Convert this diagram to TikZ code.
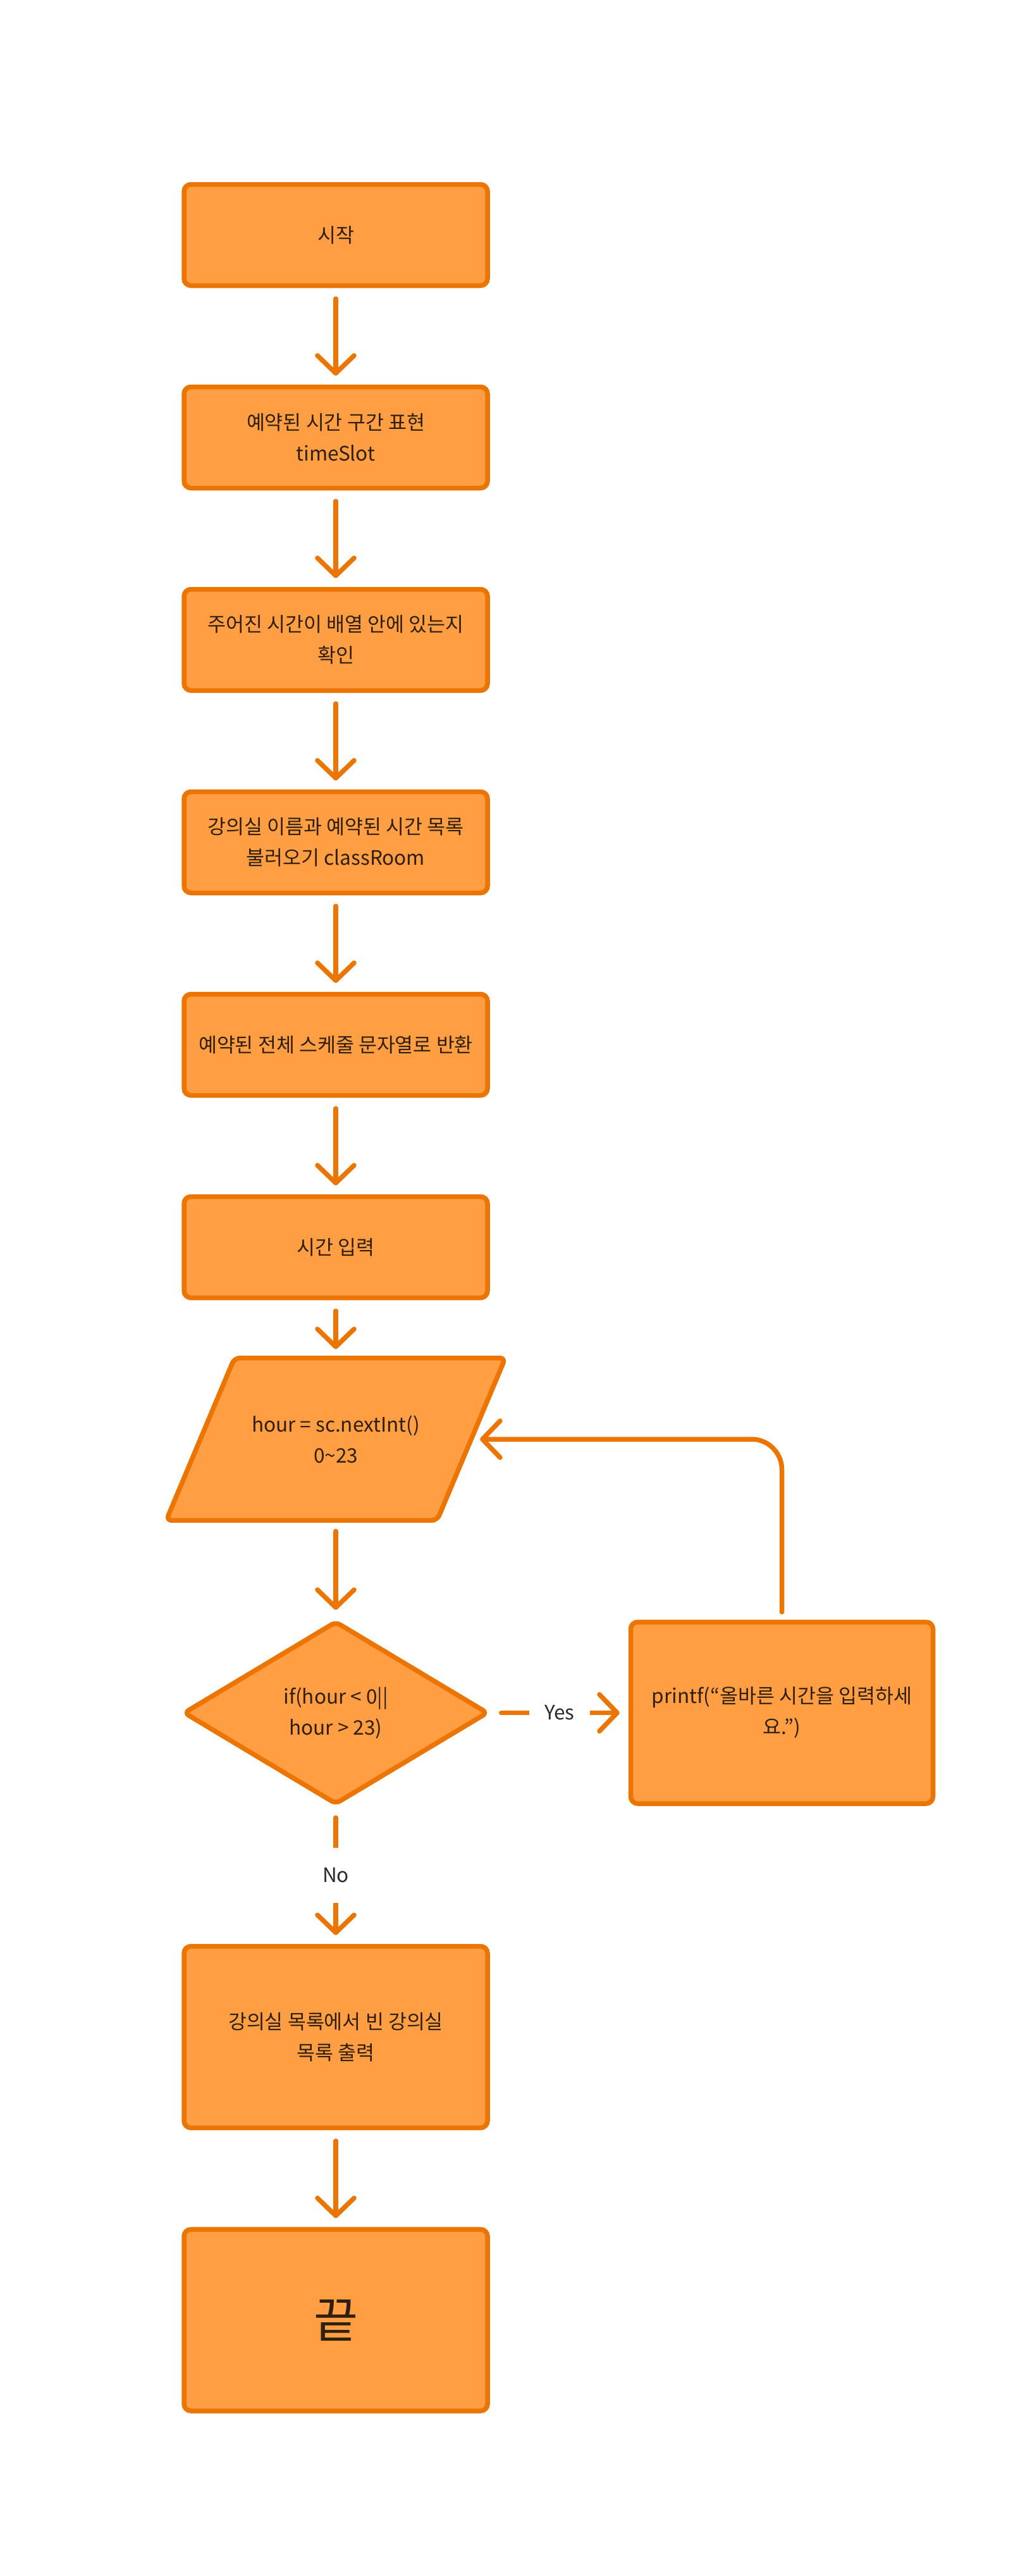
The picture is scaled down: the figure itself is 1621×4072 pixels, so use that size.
\documentclass[tikz,border=0pt]{standalone}
\usepackage{fontspec}
\setmainfont{Noto Sans CJK KR}
\usetikzlibrary{shapes.geometric, arrows.meta, backgrounds}

\definecolor{boxfill}{HTML}{FF9E42}
\definecolor{boxline}{HTML}{EB7500}
\definecolor{ink}{HTML}{2E1F0E}
\definecolor{labelink}{HTML}{2B2B2B}

\begin{document}
\begin{tikzpicture}[x=1pt, y=-1pt,
  every node/.style={font=\fontsize{31.5}{49}\selectfont, text=ink, align=center},
  base/.style={draw=boxline, fill=boxfill, line width=7.5pt},
  stepbox/.style={base, rectangle, rounded corners=11pt,
    minimum width=480pt, minimum height=160pt, inner sep=0pt},
  tallbox/.style={stepbox, minimum height=287pt},
  iobody/.style={rectangle, minimum width=428pt, minimum height=256.5pt, inner sep=0pt},
  decision/.style={base, diamond, minimum width=482pt, minimum height=290pt,
    rounded corners=8pt, inner sep=0pt},
  flow/.style={draw=boxline, line width=7.5pt, line cap=round,
    -{Straight Barb[length=28pt, width=58pt, round]},
    shorten <=17pt, shorten >=14pt},
  edgelabel/.style={fill=white, text=labelink, inner xsep=24pt, inner ysep=32pt}
]
\useasboundingbox (0,0) rectangle (1621,4072);

% main column of steps
\node[stepbox] (start) at (531,371.5) {시작};
\node[stepbox] (slot)  at (531,691.5) {예약된 시간 구간 표현\\timeSlot};
\node[stepbox] (check) at (531,1011.5) {주어진 시간이 배열 안에 있는지\\확인};
\node[stepbox] (load)  at (531,1331.5) {강의실 이름과 예약된 시간 목록\\불러오기 classRoom};
\node[stepbox] (sched) at (531,1651.5) {예약된 전체 스케줄 문자열로 반환};
\node[stepbox] (ask)   at (531,1971.5) {시간 입력};

% input step: a slanted parallelogram drawn behind its text node
\node[iobody] (input) at (531,2275) {hour = sc.nextInt()\\0\textasciitilde23};
\begin{scope}[on background layer]
  \draw[base, rounded corners=9pt]
    ([xshift=54pt]input.north west) -- ([xshift=54pt]input.north east)
    -- ([xshift=-54pt]input.south east) -- ([xshift=-54pt]input.south west) -- cycle;
\end{scope}

\node[decision] (test) at (531,2707.5) {if(hour < 0||\\hour > 23)};
\node[stepbox, minimum width=478pt, minimum height=287pt] (warn) at (1236.5,2707.5)
  {printf(“올바른 시간을 입력하세\\요.”)};
\node[tallbox] (list) at (531,3220) {강의실 목록에서 빈 강의실\\목록 출력};
\node[tallbox, font=\fontsize{76}{84}\selectfont] (finish) at (531,3667.5) {끝};

% connectors
\draw[flow] (start) -- (slot);
\draw[flow] (slot) -- (check);
\draw[flow] (check) -- (load);
\draw[flow] (load) -- (sched);
\draw[flow] (sched) -- (ask);
\draw[flow] (ask) -- (input);
\draw[flow] (input) -- (test);
\draw[flow] (test) -- node[edgelabel] {Yes} (warn);
\draw[flow] (test) -- node[edgelabel] {No} (list);
\draw[flow, rounded corners=48pt, shorten <=12pt] (warn.north) |- (input.east);
\draw[flow] (list) -- (finish);
\end{tikzpicture}
\end{document}
